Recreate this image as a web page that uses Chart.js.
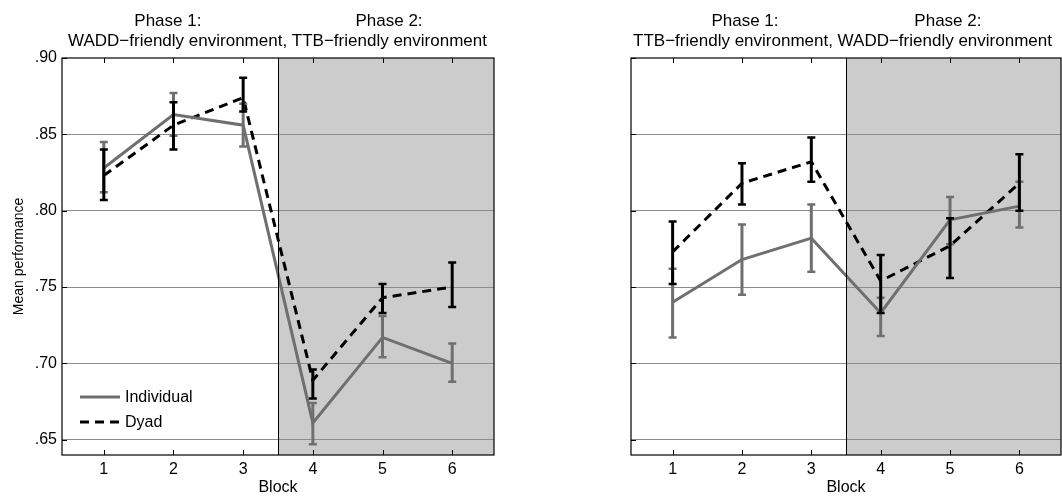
<!DOCTYPE html>
<html>
<head>
<meta charset="utf-8">
<script src="https://cdn.jsdelivr.net/npm/chart.js@4/dist/chart.umd.min.js"></script>
<style>
html, body { margin: 0; padding: 0; background: #fff; }
#wrap { position: relative; width: 1062px; height: 498px; }
canvas { position: absolute; top: 0; }
</style>
</head>
<body>
<div id="wrap">
  <canvas id="leftChart" width="531" height="498" style="left:0"></canvas>
  <canvas id="rightChart" width="531" height="498" style="left:531px"></canvas>
</div>
<script>
// Categories and tick labels
const blocks = [1, 2, 3, 4, 5, 6];
const yTicks = [0.65, 0.70, 0.75, 0.80, 0.85, 0.90];
const seriesNames = ['Individual', 'Dyad'];
const phaseSplit = 3.5; // phase 2 starts after block 3

// Left panel: WADD-friendly, then TTB-friendly
const leftTitle = ['Phase 1:', 'Phase 2:', 'WADD\u2212friendly environment, TTB\u2212friendly environment'];
const leftIndiv   = [0.828, 0.863, 0.856, 0.661, 0.717, 0.700];
const leftIndivLo = [0.812, 0.849, 0.842, 0.647, 0.704, 0.688];
const leftIndivHi = [0.845, 0.877, 0.870, 0.674, 0.731, 0.713];
const leftDyad    = [0.823, 0.856, 0.874, 0.689, 0.743, 0.750];
const leftDyadLo  = [0.807, 0.840, 0.865, 0.677, 0.733, 0.737];
const leftDyadHi  = [0.840, 0.871, 0.887, 0.696, 0.752, 0.766];

// Right panel: TTB-friendly, then WADD-friendly
const rightTitle = ['Phase 1:', 'Phase 2:', 'TTB\u2212friendly environment, WADD\u2212friendly environment'];
const rightIndiv   = [0.740, 0.768, 0.782, 0.733, 0.794, 0.803];
const rightIndivLo = [0.717, 0.745, 0.760, 0.718, 0.778, 0.789];
const rightIndivHi = [0.762, 0.791, 0.804, 0.743, 0.809, 0.819];
const rightDyad    = [0.773, 0.818, 0.832, 0.754, 0.777, 0.818];
const rightDyadLo  = [0.752, 0.804, 0.819, 0.733, 0.756, 0.800];
const rightDyadHi  = [0.793, 0.831, 0.848, 0.771, 0.795, 0.837];

const FONT = '"Liberation Sans", Arial, Helvetica, sans-serif';
const GRAY = '#6f6f6f';
const DASH = [9, 6];

// Draws shading, frame, inward ticks, error bars, titles and legend.
const panelPlugin = {
    id: 'panel',
    beforeDraw(chart, args, opts) {
        const {ctx, chartArea: a, scales: {x}} = chart;
        const sx = x.getPixelForValue(phaseSplit);
        ctx.save();
        ctx.fillStyle = '#cccccc';
        ctx.fillRect(sx, a.top, a.right - sx, a.bottom - a.top);
        ctx.restore();
    },
    afterDatasetsDraw(chart, args, opts) {
        const {ctx, chartArea: a, scales: {x, y}} = chart;
        ctx.save();
        // phase divider
        const sx = Math.round(x.getPixelForValue(phaseSplit)) + 0.5;
        ctx.strokeStyle = '#000';
        ctx.lineWidth = 1;
        ctx.beginPath(); ctx.moveTo(sx, a.top); ctx.lineTo(sx, a.bottom); ctx.stroke();
        // error bars
        opts.bars.forEach(bar => {
            ctx.strokeStyle = bar.color;
            blocks.forEach((b, i) => {
                const px = x.getPixelForValue(b);
                const lo = y.getPixelForValue(bar.lo[i]);
                const hi = y.getPixelForValue(bar.hi[i]);
                ctx.lineWidth = 3;
                ctx.beginPath(); ctx.moveTo(px, lo); ctx.lineTo(px, hi); ctx.stroke();
                ctx.lineWidth = 2.5;
                ctx.beginPath();
                ctx.moveTo(px - 4, lo); ctx.lineTo(px + 4, lo);
                ctx.moveTo(px - 4, hi); ctx.lineTo(px + 4, hi);
                ctx.stroke();
            });
        });
        // frame and inward ticks
        ctx.strokeStyle = '#000';
        ctx.lineWidth = 1.2;
        ctx.strokeRect(a.left, a.top, a.right - a.left, a.bottom - a.top);
        ctx.lineWidth = 1;
        ctx.beginPath();
        blocks.forEach(b => {
            const px = Math.round(x.getPixelForValue(b)) + 0.5;
            ctx.moveTo(px, a.bottom); ctx.lineTo(px, a.bottom - 5);
            ctx.moveTo(px, a.top); ctx.lineTo(px, a.top + 5);
        });
        yTicks.forEach(v => {
            const py = Math.round(y.getPixelForValue(v)) + 0.5;
            ctx.moveTo(a.left, py); ctx.lineTo(a.left + 5, py);
        });
        ctx.stroke();
        // two line title
        const w = a.right - a.left;
        ctx.fillStyle = '#000';
        ctx.font = '17px ' + FONT;
        ctx.textAlign = 'center';
        ctx.textBaseline = 'alphabetic';
        ctx.fillText(opts.title[0], a.left + w * opts.phasePos[0], 25.5);
        ctx.fillText(opts.title[1], a.left + w * opts.phasePos[1], 25.5);
        ctx.fillText(opts.title[2], a.left + w / 2 - opts.line2Shift, 46);
        // legend
        if (opts.legend) {
            const lx = a.left + 18;
            chart.data.datasets.forEach((ds, i) => {
                const ly = a.bottom - 58 + i * 25;
                ctx.strokeStyle = ds.borderColor;
                ctx.lineWidth = 3;
                ctx.setLineDash(ds.borderDash || []);
                ctx.beginPath(); ctx.moveTo(lx, ly); ctx.lineTo(lx + 40, ly); ctx.stroke();
                ctx.setLineDash([]);
                ctx.font = '16px ' + FONT;
                ctx.textAlign = 'left';
                ctx.textBaseline = 'middle';
                ctx.fillText(ds.label, lx + 45, ly + 1);
            });
        }
        ctx.restore();
    }
};

function makePanel(id, indiv, indivLo, indivHi, dyad, dyadLo, dyadHi, title, isLeft) {
    const ctx = document.getElementById(id).getContext('2d');
    const toPts = vals => blocks.map((b, i) => ({x: b, y: vals[i]}));
    return new Chart(ctx, {
        type: 'line',
        data: {
            datasets: [
                {label: seriesNames[0], data: toPts(indiv), borderColor: GRAY, borderWidth: 3,
                 pointRadius: 0, tension: 0, fill: false},
                {label: seriesNames[1], data: toPts(dyad), borderColor: '#000', borderWidth: 3,
                 borderDash: DASH, pointRadius: 0, tension: 0, fill: false}
            ]
        },
        options: {
            responsive: false,
            animation: false,
            devicePixelRatio: 1,
            layout: {padding: isLeft ? {top: 58, right: 37, bottom: 0, left: 0}
                                     : {top: 58, right: 1, bottom: 0, left: 0}},
            plugins: {
                legend: {display: false},
                tooltip: {enabled: false},
                panel: {
                    title: title,
                    phasePos: isLeft ? [0.245, 0.757] : [0.265, 0.737],
                    line2Shift: isLeft ? 0.5 : 3.5,
                    legend: isLeft,
                    bars: [
                        {lo: indivLo, hi: indivHi, color: GRAY},
                        {lo: dyadLo, hi: dyadHi, color: '#000'}
                    ]
                }
            },
            scales: {
                x: {
                    type: 'linear', min: 0.4, max: 6.6,
                    afterBuildTicks: s => { s.ticks = blocks.map(v => ({value: v})); },
                    afterFit: s => { s.height = 43; },
                    grid: {display: false, drawTicks: false},
                    border: {display: false},
                    ticks: {color: '#000', font: {family: FONT, size: 16}, padding: 5, maxRotation: 0},
                    title: {display: true, text: 'Block', color: '#000',
                            font: {family: FONT, size: 16}, padding: {top: 0, bottom: 1}}
                },
                y: {
                    min: 0.64, max: 0.90,
                    afterBuildTicks: s => { s.ticks = yTicks.map(v => ({value: v})); },
                    afterFit: s => { s.width = isLeft ? 62 : 100; },
                    grid: {color: ctx => ctx.tick && ctx.tick.value >= 0.9 ? 'rgba(0,0,0,0)' : '#8c8c8c',
                           lineWidth: 1, drawTicks: false},
                    border: {display: false},
                    ticks: {display: isLeft, color: '#000', font: {family: FONT, size: 16}, padding: 5,
                            callback: v => '.' + v.toFixed(2).slice(2)},
                    title: {display: isLeft, text: 'Mean performance', color: '#000',
                            font: {family: FONT, size: 14}, padding: {top: 11, bottom: 0}}
                }
            }
        },
        plugins: [panelPlugin]
    });
}

makePanel('leftChart', leftIndiv, leftIndivLo, leftIndivHi, leftDyad, leftDyadLo, leftDyadHi, leftTitle, true);
makePanel('rightChart', rightIndiv, rightIndivLo, rightIndivHi, rightDyad, rightDyadLo, rightDyadHi, rightTitle, false);
</script>
</body>
</html>
